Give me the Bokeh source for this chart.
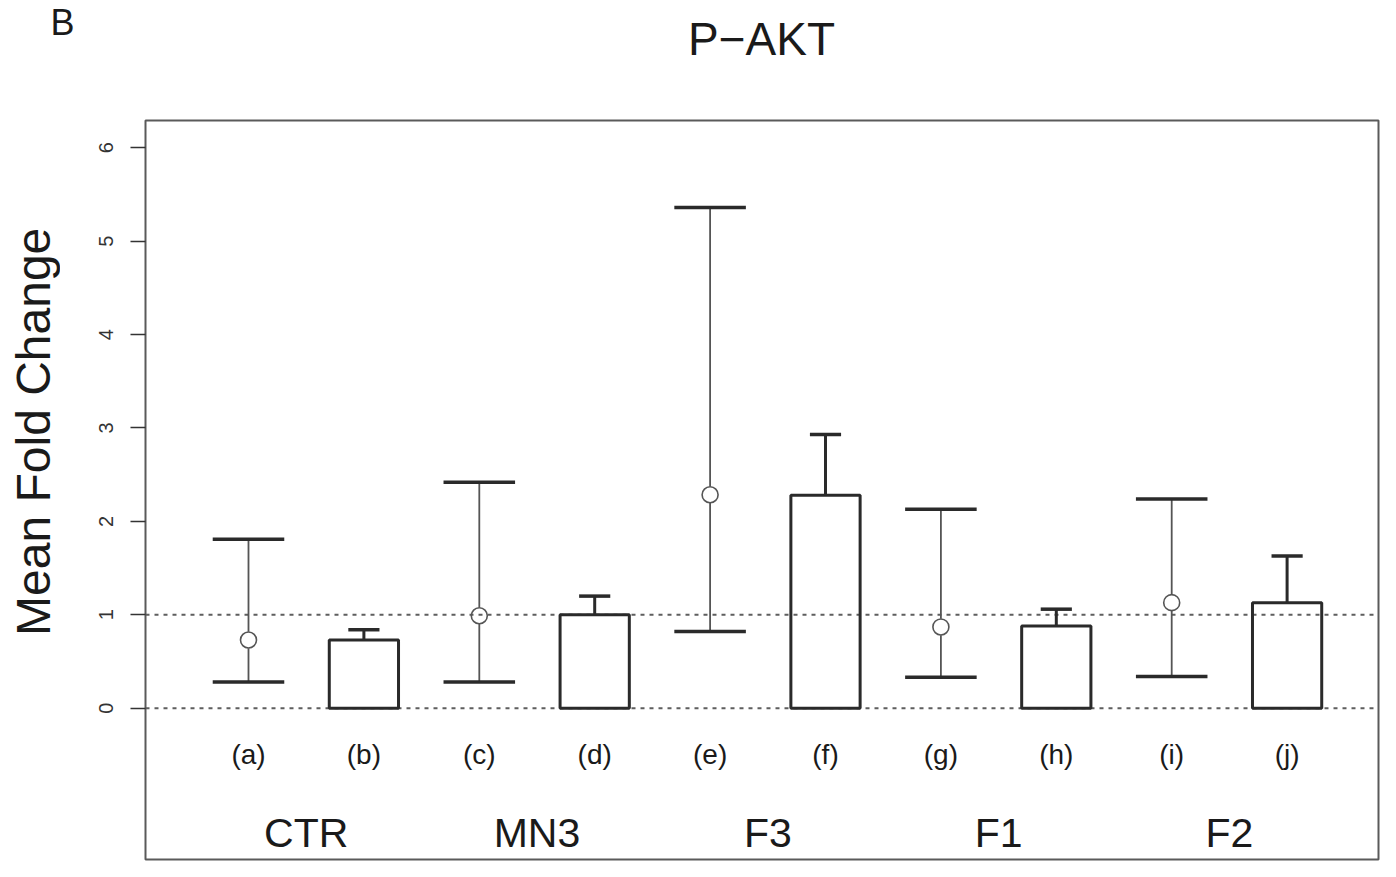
from bokeh.plotting import figure
from bokeh.layouts import column, row
from bokeh.models import Range1d, FixedTicker, Span
from bokeh.core.properties import value
from bokeh.embed import file_html
from bokeh.resources import INLINE
import math

# ---------------- data ----------------
item_labels = ["(a)", "(b)", "(c)", "(d)", "(e)", "(f)", "(g)", "(h)", "(i)", "(j)"]
item_pos = [1, 2, 3, 4, 5, 6, 7, 8, 9, 10]
groups = ["CTR", "MN3", "F3", "F1", "F2"]
group_pos = [1.5, 3.5, 5.5, 7.5, 9.5]

# points with CI (odd items)
pt_pos = [1, 3, 5, 7, 9]
pt_mean = [0.73, 0.99, 2.285, 0.87, 1.13]
pt_upper = [1.81, 2.42, 5.36, 2.13, 2.24]
pt_lower = [0.28, 0.28, 0.82, 0.33, 0.34]

# bars with upper error (even items)
bar_pos = [2, 4, 6, 8, 10]
bar_mean = [0.73, 1.00, 2.28, 0.88, 1.13]
bar_upper = [0.84, 1.20, 2.93, 1.06, 1.63]

ref_lines = [0, 1]
y_ticks = [0, 1, 2, 3, 4, 5, 6]
title_text = "P\u2212AKT"
ylabel_text = "Mean Fold Change"
panel_letter = "B"

# ---------------- styling ----------------
FONT = "Liberation Sans"
TXT = "#1a1a1a"
LINE = "#2a2a2a"
W, H = 1380, 861
HEAD_H, LEFT_W = 118, 60


def blank(width, height):
    f = figure(width=width, height=height, x_range=Range1d(0, width),
               y_range=Range1d(height, 0), output_backend="svg",
               toolbar_location=None, title=None, min_border=0)
    f.axis.visible = False
    f.grid.visible = False
    f.outline_line_color = None
    f.background_fill_color = "white"
    f.border_fill_color = "white"
    return f


# header strip: panel letter + title
head = blank(W, HEAD_H)
head.text(x=[50], y=[22], text=[panel_letter], text_font=value(FONT),
          text_font_size="36px", text_color=TXT, text_align="left",
          text_baseline="middle")
head.text(x=[761], y=[38.5], text=[title_text], text_font=value(FONT),
          text_font_size="46px", text_color=TXT, text_align="center",
          text_baseline="middle")

# left strip: y axis title
MAIN_H = H - HEAD_H
left = blank(LEFT_W, MAIN_H)
left.text(x=[33], y=[431 - HEAD_H], text=[ylabel_text], text_font=value(FONT),
          text_font_size="48px", text_color=TXT, text_align="center",
          text_baseline="middle", angle=math.pi / 2)

# main plot
p = figure(width=W - LEFT_W, height=MAIN_H,
           x_range=Range1d(0.1075, 10.792), y_range=Range1d(-1.62, 6.292),
           output_backend="svg", toolbar_location=None, title=None,
           min_border_left=145 - LEFT_W, min_border_top=2,
           min_border_right=2, min_border_bottom=2)
p.background_fill_color = "white"
p.border_fill_color = "white"
p.outline_line_color = "#5a5a5a"
p.outline_line_width = 2
p.xgrid.visible = False
p.ygrid.visible = False
p.xaxis.visible = False

ya = p.yaxis[0]
ya.ticker = FixedTicker(ticks=y_ticks)
ya.major_label_orientation = "vertical"
ya.major_label_text_font = FONT
ya.major_label_text_font_size = "20px"
ya.major_label_text_color = "#333333"
ya.major_label_standoff = 17
ya.major_tick_out = 15
ya.major_tick_in = 0
ya.minor_tick_out = 0
ya.minor_tick_in = 0
ya.major_tick_line_color = "#333333"
ya.major_tick_line_width = 1.5
ya.axis_line_color = None

for v in ref_lines:
    p.add_layout(Span(location=v, dimension="width", line_color="#5e5e5e",
                      line_width=2, line_dash="4 5", level="underlay"))

# bars
p.vbar(x=bar_pos, top=bar_mean, bottom=0, width=0.6, fill_color=None,
       line_color=LINE, line_width=3)
p.segment(x0=bar_pos, y0=bar_mean, x1=bar_pos, y1=bar_upper,
          line_color=LINE, line_width=3)
bcap = 0.135
p.segment(x0=[x - bcap for x in bar_pos], y0=bar_upper,
          x1=[x + bcap for x in bar_pos], y1=bar_upper,
          line_color=LINE, line_width=3.5)

# points: vertical CI with a gap around the circle
gap = 0.088
p.segment(x0=pt_pos, y0=pt_lower, x1=pt_pos, y1=[m - gap for m in pt_mean],
          line_color="#555555", line_width=1.8)
p.segment(x0=pt_pos, y0=[m + gap for m in pt_mean], x1=pt_pos, y1=pt_upper,
          line_color="#555555", line_width=1.8)
pcap = 0.31
for ys in (pt_upper, pt_lower):
    p.segment(x0=[x - pcap for x in pt_pos], y0=ys,
              x1=[x + pcap for x in pt_pos], y1=ys,
              line_color=LINE, line_width=3.5)
p.scatter(x=pt_pos, y=pt_mean, marker="circle", size=16, fill_color=None,
          line_color="#555555", line_width=1.6)

# item labels and group labels (inside the box)
p.text(x=item_pos, y=[-0.501] * len(item_pos), text=item_labels,
       text_font=value(FONT), text_font_size="28px", text_color=TXT,
       text_align="center", text_baseline="middle")
p.text(x=group_pos, y=[-1.331] * len(group_pos), text=groups,
       text_font=value(FONT), text_font_size="41px", text_color=TXT,
       text_align="center", text_baseline="middle")

layout = column(head, row(left, p, spacing=0), spacing=0)
open("out.html", "w").write(file_html(layout, INLINE))
